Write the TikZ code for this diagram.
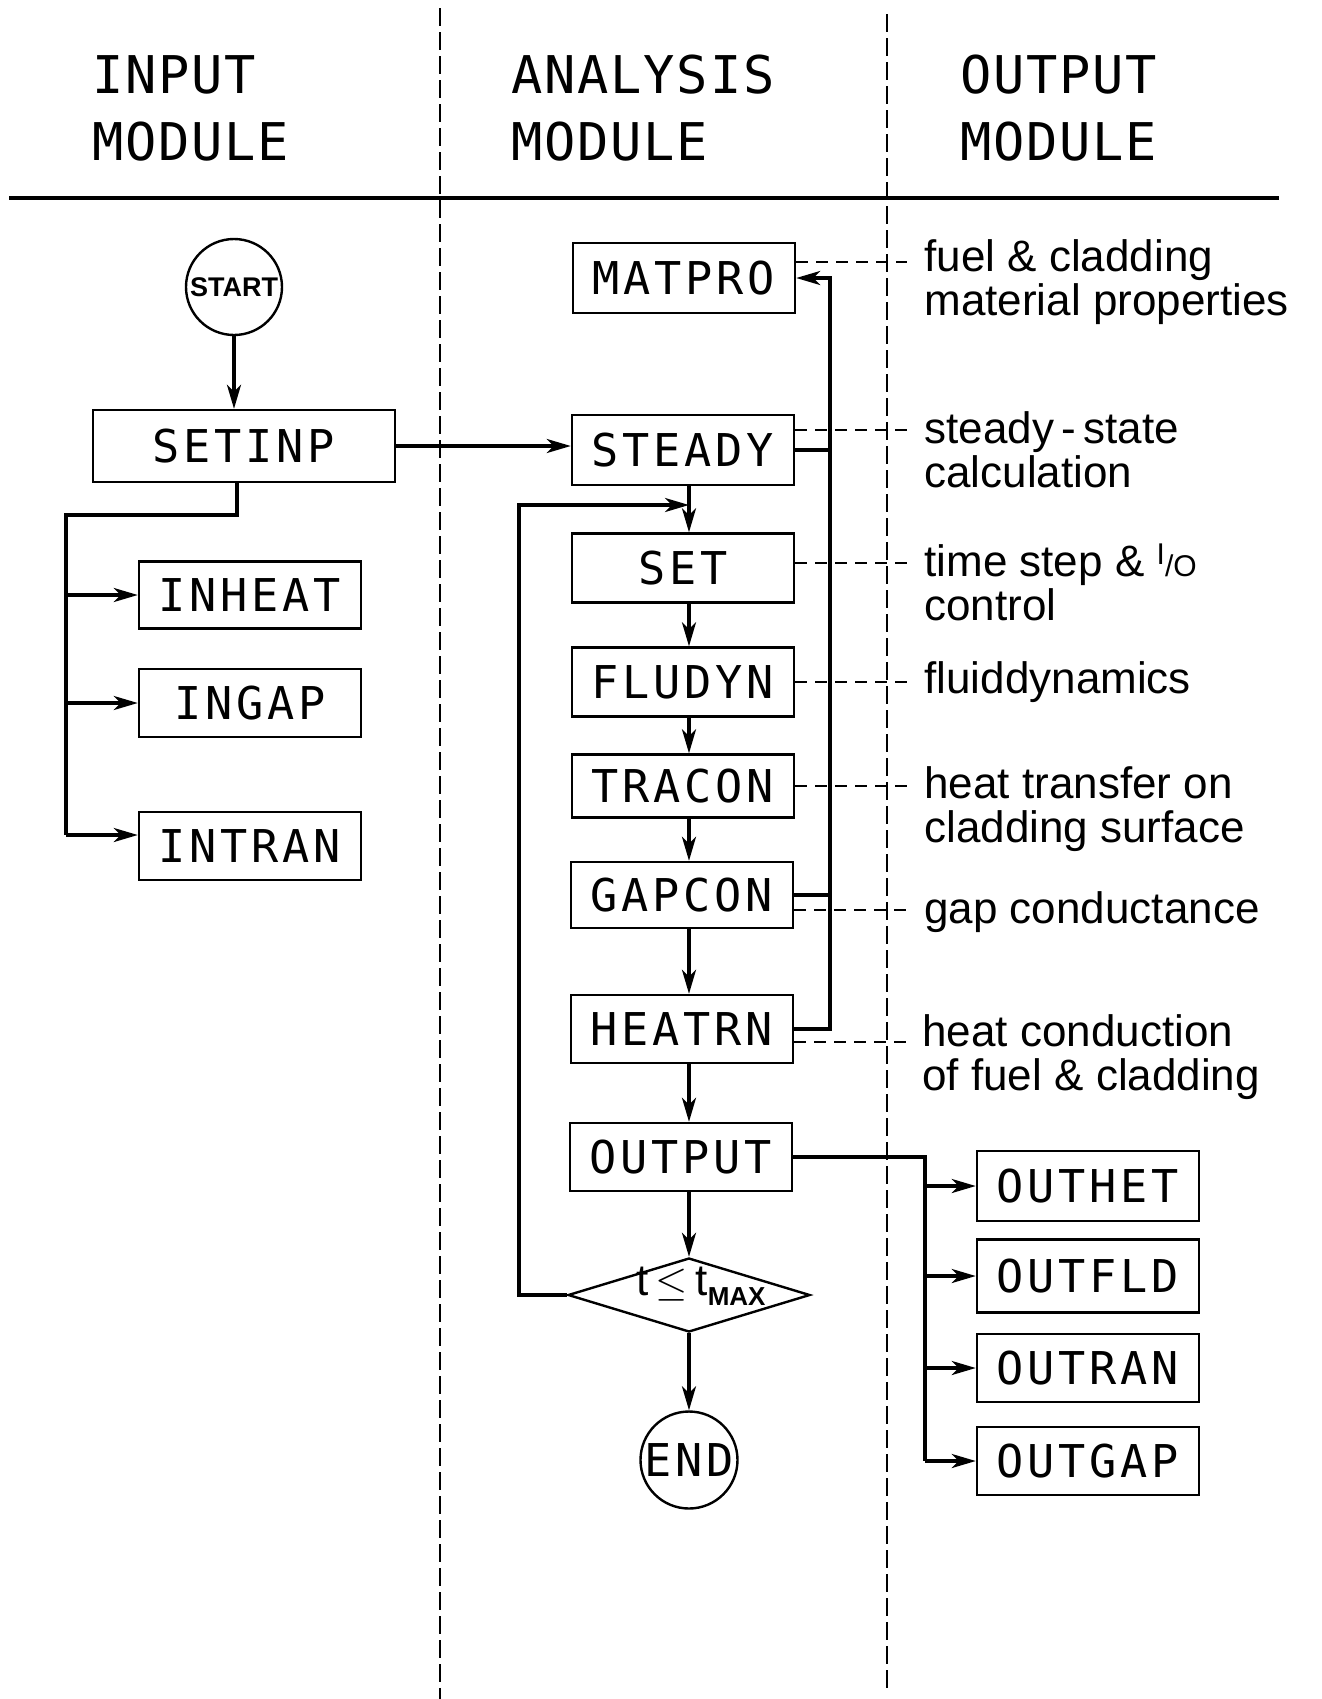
\documentclass[tikz,border=0pt]{standalone}
\usepackage{fontspec}
\setmainfont{Liberation Sans}
\newfontfamily\monofnt[LetterSpace=8.4]{DejaVu Sans Mono}
\newfontfamily\hdrfnt[LetterSpace=3.5]{DejaVu Sans Mono}
\usetikzlibrary{arrows.meta,shapes.geometric,calc}
\begin{document}
\begin{tikzpicture}[x=0.5pt,y=-0.5pt,
  box/.style={draw,line width=1.2pt,rectangle,minimum width=111pt,minimum height=34pt,inner sep=0pt,font=\monofnt\fontsize{22.6}{24}\selectfont},
  conn/.style={line width=1.8pt},
  arr/.style={conn,-{Stealth[length=12pt,width=7pt,inset=3.5pt]}},
  dline/.style={line width=1.1pt,dash pattern=on 6pt off 4pt},
  divider/.style={line width=1.1pt,dash pattern=on 9pt off 3pt},
  lbl/.style={anchor=base west,align=left,inner sep=0pt,font=\fontsize{22}{21.8}\selectfont},
  hdr/.style={anchor=base west,align=left,inner sep=0pt,font=\hdrfnt\fontsize{26}{33.5}\selectfont},
  term/.style={draw,circle,line width=1.2pt,inner sep=0pt},
]
\useasboundingbox (0,0) rectangle (1322,1699);

% headers (anchor at baseline of last line)
\node[hdr] (hIn) at (92,160) {INPUT\\MODULE};
\node[hdr] (hAn) at (511,160) {ANALYSIS\\MODULE};
\node[hdr] (hOut) at (960,160) {OUTPUT\\MODULE};
\draw[line width=1.6pt] (9,198) -- (1279,198);
\draw[divider] (440,8) -- (440,1699);
\draw[divider] (887,14) -- (887,1690);

% input column
\node[term,minimum size=48pt] (START) at (234,287) {\makebox[0pt]{\fontsize{13.5}{14}\selectfont\bfseries START}};
\node[box,minimum width=151pt,minimum height=36pt] (SETINP) at (244,446) {SETINP};
\node[box,minimum height=33.5pt] (INHEAT) at (250,595) {INHEAT};
\node[box] (INGAP) at (250,703) {INGAP};
\node[box] (INTRAN) at (250,846) {INTRAN};

% analysis column
\node[box,minimum height=35pt] (MATPRO) at (684,278) {MATPRO};
\node[box,minimum height=35pt] (STEADY) at (683,450) {STEADY};
\node[box,minimum height=34.5pt] (SET) at (683,568) {SET};
\node[box,minimum height=34.5pt] (FLUDYN) at (683,682) {FLUDYN};
\node[box,minimum height=31.5pt] (TRACON) at (683,786) {TRACON};
\node[box,minimum height=33pt] (GAPCON) at (682,895) {GAPCON};
\node[box] (HEATRN) at (682,1029) {HEATRN};
\node[box] (OUTPUT) at (681,1157) {OUTPUT};
\node[diamond,draw,line width=1.2pt,inner sep=0pt,minimum width=121pt,minimum height=37pt] (D) at (689,1295)
  {\smash{\makebox[0pt]{\kern12pt\fontsize{22}{22}\selectfont t\,$\le$\,t\raisebox{-5pt}{\fontsize{13}{13}\selectfont\bfseries MAX}}}};
\node[term,minimum size=48.5pt] (END) at (689,1460) {\makebox[0pt]{\monofnt\fontsize{22.6}{24}\selectfont END}};

% output column
\node[box,minimum height=35pt] (OUTHET) at (1088,1186) {OUTHET};
\node[box,minimum height=36.5pt] (OUTFLD) at (1088,1276) {OUTFLD};
\node[box] (OUTRAN) at (1088,1368) {OUTRAN};
\node[box] (OUTGAP) at (1088,1461) {OUTGAP};

% labels (anchor at baseline of last line)
\node[lbl] (L1) at (924,315) {fuel \& cladding\\material properties};
\node[lbl] (L2) at (924,487) {steady\,-\,state\\calculation};
\node[lbl] (L3) at (924,620) {time step \& {\fontsize{15}{15}\selectfont\raisebox{6pt}{I}/O}\\control};
\node[lbl] (L4) at (924,693) {fluiddynamics};
\node[lbl] (L5) at (924,842) {heat transfer on\\cladding surface};
\node[lbl] (L6) at (924,923) {gap conductance};
\node[lbl] (L7) at (922,1090) {heat conduction\\of fuel \& cladding};

% helper coordinates
\coordinate (ax) at (689,0);
\coordinate (fx) at (830,0);
\coordinate (dx) at (907,0);
\coordinate (lx) at (519,505);
\coordinate (sx) at (237,515);
\coordinate (vx) at (66,515);
\coordinate (vb) at (66,835);
\coordinate (ox) at (925,1160);

% input connectors
\draw[arr] (START.south) -- (START.south |- SETINP.north);
\draw[arr] (SETINP.east) -- (SETINP.east -| STEADY.west);
\draw[conn] (sx |- SETINP.south) -- (sx) -- (vx) -- (vb);
\draw[arr] (vx |- INHEAT.west) -- (INHEAT.west);
\draw[arr] (vx |- INGAP.west) -- (INGAP.west);
\draw[arr] (vb) -- (vb -| INTRAN.west);

% main flow
\draw[arr] (STEADY.south -| ax) -- (SET.north -| ax);
\draw[arr] (SET.south -| ax) -- (FLUDYN.north -| ax);
\draw[arr] (FLUDYN.south -| ax) -- (TRACON.north -| ax);
\draw[arr] (TRACON.south -| ax) -- (GAPCON.north -| ax);
\draw[arr] (GAPCON.south -| ax) -- (HEATRN.north -| ax);
\draw[arr] (HEATRN.south -| ax) -- (OUTPUT.north -| ax);
\draw[arr] (OUTPUT.south -| ax) -- (D.north);
\draw[arr] (D.south) -- (END.north);
\draw[arr] (D.west) -- (D.west -| lx) -- (lx) -- (lx -| ax);

% feedback to MATPRO
\draw[arr] (HEATRN.east) -- (HEATRN.east -| fx) -- (fx |- MATPRO.east) -- (MATPRO.east);
\draw[conn] (STEADY.east) -- (STEADY.east -| fx);
\draw[conn] (GAPCON.east) -- (GAPCON.east -| fx);

% dashed links to descriptions
\coordinate (dM) at ([yshift=8pt]MATPRO.east);
\coordinate (dS) at ([yshift=10pt]STEADY.east);
\coordinate (dT) at ([yshift=2.5pt]SET.east);
\coordinate (dF) at (FLUDYN.east);
\coordinate (dR) at (TRACON.east);
\coordinate (dG) at ([yshift=-7.5pt]GAPCON.east);
\coordinate (dH) at ([yshift=-6.5pt]HEATRN.east);
\foreach \c in {dM,dS,dT,dF,dR,dG,dH} \draw[dline] (\c) -- (\c -| dx);

% output branch
\draw[conn] (OUTPUT.east) -- (OUTPUT.east -| ox) -- (ox |- OUTGAP.west);
\draw[arr] (ox |- OUTHET.west) -- (OUTHET.west);
\draw[arr] (ox |- OUTFLD.west) -- (OUTFLD.west);
\draw[arr] (ox |- OUTRAN.west) -- (OUTRAN.west);
\draw[arr] (ox |- OUTGAP.west) -- (OUTGAP.west);
\end{tikzpicture}
\end{document}
